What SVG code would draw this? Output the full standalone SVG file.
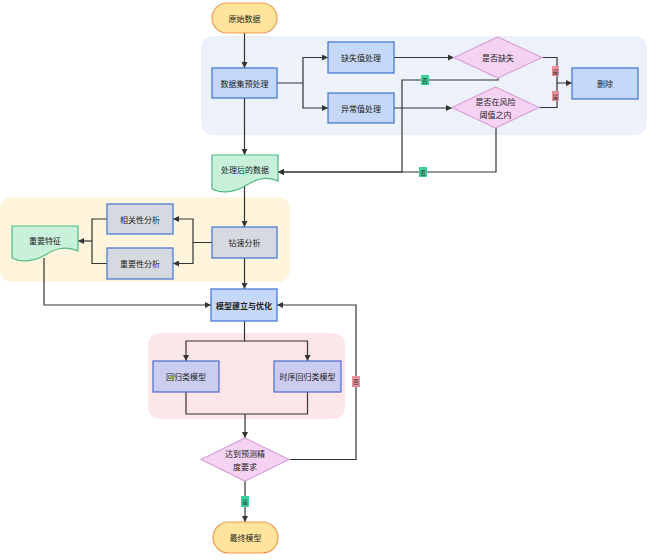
<svg xmlns="http://www.w3.org/2000/svg" width="660" height="560" viewBox="0 0 660 560">
<style>
text{font-family:"Noto Sans CJK SC","Noto Sans",sans-serif;font-size:8px;fill:#222;text-anchor:middle;dominant-baseline:central}
.term{fill:#FFE49C;stroke:#EE9A55;stroke-width:1.2}
.proc{fill:#C6D8F7;stroke:#3F72D4;stroke-width:1.2}
.grey{fill:#D6DAE0;stroke:#3F72D4;stroke-width:1.2}
.lav{fill:#CACDF0;stroke:#4A6AD0;stroke-width:1.2}
.dia{fill:#F6D2F2;stroke:#D7A0DA;stroke-width:1.2}
.doc{fill:#C8F0DA;stroke:#4DBB80;stroke-width:1.2}
.ln{fill:none;stroke:#333;stroke-width:1.2}
.lr{fill:#E8919C}
.lg{fill:#38D39C}
.lt{font-size:6px;fill:#333}
</style>
<defs>
<marker id="ah" viewBox="0 0 6 6" refX="6" refY="3" markerWidth="6" markerHeight="6" markerUnits="userSpaceOnUse" orient="auto">
<path d="M0,0 L6,3 L0,6 z" fill="#333"/>
</marker>
</defs>
<g id="groups">
<rect x="201" y="36" width="446" height="99" rx="12" fill="#EDF2FA"/>
<rect x="0" y="197" width="290" height="85" rx="12" fill="#FFF5DC"/>
<rect x="148" y="333" width="197" height="86" rx="12" fill="#FDE6E8"/>
</g>
<g id="connectors">
<path class="ln" d="M244.5,33 V68" marker-end="url(#ah)"/>
<path class="ln" d="M277,83 H303 V57.5 H328" marker-end="url(#ah)"/>
<path class="ln" d="M303,83 V108 H328" marker-end="url(#ah)"/>
<path class="ln" d="M394,57.5 H454" marker-end="url(#ah)"/>
<path class="ln" d="M394,108 H452" marker-end="url(#ah)"/>
<path class="ln" d="M542,57.5 H557 V83 H572" marker-end="url(#ah)"/>
<path class="ln" d="M539,107.5 H557 V83"/>
<path class="ln" d="M498,78 V80 H402 V172 H278" marker-end="url(#ah)"/>
<path class="ln" d="M496,128 V172 H278" marker-end="url(#ah)"/>
<path class="ln" d="M244.5,98 V155" marker-end="url(#ah)"/>
<path class="ln" d="M244.5,186 V227" marker-end="url(#ah)"/>
<path class="ln" d="M212,242.5 H193 V219 H173" marker-end="url(#ah)"/>
<path class="ln" d="M193,242.5 V263.5 H173" marker-end="url(#ah)"/>
<path class="ln" d="M107,219 H92 V263.5 H107"/>
<path class="ln" d="M92,241 H78" marker-end="url(#ah)"/>
<path class="ln" d="M244.5,258 V289" marker-end="url(#ah)"/>
<path class="ln" d="M44,258 V305 H211" marker-end="url(#ah)"/>
<path class="ln" d="M244.5,321 V341 H186 V361" marker-end="url(#ah)"/>
<path class="ln" d="M244.5,341 H307.5 V361" marker-end="url(#ah)"/>
<path class="ln" d="M186,392 V414 H307.5 V392"/>
<path class="ln" d="M245,414 V438" marker-end="url(#ah)"/>
<path class="ln" d="M289,459.5 H356 V305 H277" marker-end="url(#ah)"/>
<path class="ln" d="M245,481 V522" marker-end="url(#ah)"/>
<g id="labels">
<rect class="lr" x="552" y="66" width="7" height="10"/><text class="lt" x="555.5" y="71">是</text>
<rect class="lr" x="552" y="91" width="7" height="10"/><text class="lt" x="555.5" y="96">是</text>
<rect class="lg" x="421" y="75" width="8" height="10"/><text class="lt" x="425" y="80">否</text>
<rect class="lg" x="419" y="167" width="8" height="10"/><text class="lt" x="423" y="172">否</text>
<rect class="lr" x="352" y="376" width="8" height="11"/><text class="lt" x="356" y="381.5">否</text>
<rect class="lg" x="241" y="496" width="8" height="11"/><text class="lt" x="245" y="501.5">是</text>
</g>
</g>
<g id="n-raw"><rect class="term" x="212" y="3" width="65" height="30" rx="15"/><text x="244.5" y="18">原始数据</text></g>
<g id="n-pre"><rect class="proc" x="212" y="68" width="65" height="30"/><text x="244.5" y="83">数据集预处理</text></g>
<g id="n-miss"><rect class="proc" x="328" y="42" width="66" height="31"/><text x="361" y="57.5">缺失值处理</text></g>
<g id="n-out"><rect class="proc" x="328" y="93" width="66" height="30"/><text x="361" y="108">异常值处理</text></g>
<g id="n-ismiss"><polygon class="dia" points="498,37 542,57.5 498,78 454,57.5"/><text x="498" y="57.5">是否缺失</text></g>
<g id="n-isrisk"><polygon class="dia" points="495.5,87 539,107.5 495.5,128 452,107.5"/><text x="495.5" y="101">是否在风险</text><text x="495.5" y="114">阈值之内</text></g>
<g id="n-del"><rect class="proc" x="572" y="68" width="66" height="31"/><text x="605" y="83.5">删除</text></g>
<g id="n-done"><path class="doc" d="M212,155 H278 V181 C265,175 255,180 245,186 C235,192 222,194 212,189 Z"/><text x="245" y="169">处理后的数据</text></g>
<g id="n-drill"><rect class="grey" x="212" y="227" width="65" height="31"/><text x="244.5" y="242.5">钻速分析</text></g>
<g id="n-corr"><rect class="grey" x="107" y="204" width="66" height="30"/><text x="140" y="219">相关性分析</text></g>
<g id="n-imp"><rect class="grey" x="107" y="248" width="66" height="31"/><text x="140" y="263.5">重要性分析</text></g>
<g id="n-feat"><path class="doc" d="M12,226 H78 V251 C65,245 55,249 45,255 C35,261 22,263 12,258 Z"/><text x="45" y="240">重要特征</text></g>
<g id="n-model"><rect class="proc" x="211" y="289" width="66" height="32" stroke-width="1.5"/><text x="244" y="305" font-weight="bold">模型建立与优化</text></g>
<g id="n-reg"><rect class="lav" x="153" y="361" width="66" height="31"/><text x="186" y="376.5">回归类模型</text></g>
<g id="n-ts"><rect class="lav" x="274" y="361" width="67" height="31"/><text x="307.5" y="376.5">时序回归类模型</text></g>
<g id="n-acc"><polygon class="dia" points="245,438 289,459.5 245,481 201,459.5"/><text x="245" y="453">达到预测精</text><text x="245" y="466">度要求</text></g>
<g id="n-final"><rect class="term" x="213" y="522" width="65" height="31" rx="15.5"/><text x="245.5" y="537.5">最终模型</text></g>
</svg>
